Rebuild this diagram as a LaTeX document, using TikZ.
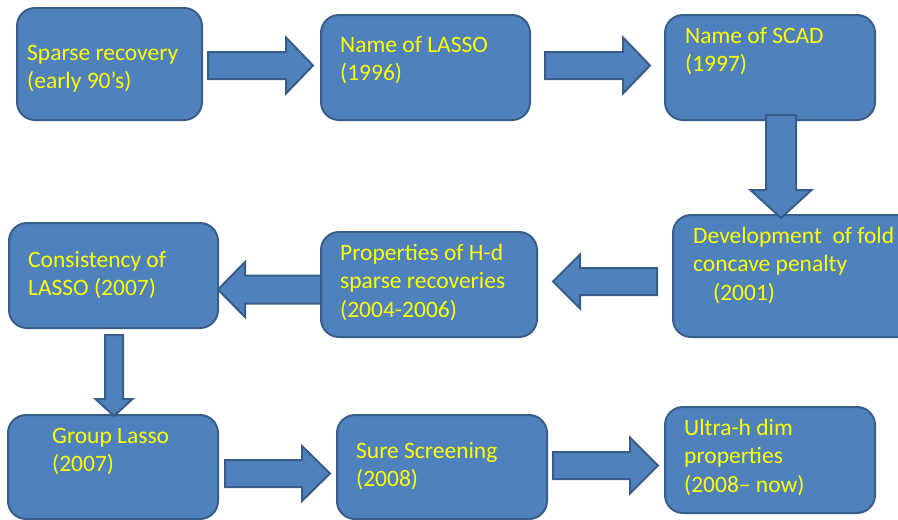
\documentclass[tikz,border=0pt]{standalone}
\usepackage{fontspec}
\setmainfont{Carlito}
\definecolor{boxfill}{RGB}{79,129,189}
\definecolor{boxline}{RGB}{56,93,138}
\definecolor{txtyellow}{RGB}{255,255,0}
\newcommand\topstr{\rule{0pt}{18pt}}
\newcommand\harr[6]{%
  \draw[blockarrow] (#1,{#4-#5}) -- (#2,{#4-#5}) -- (#2,{#4-#6}) -- (#3,#4) -- (#2,{#4+#6}) -- (#2,{#4+#5}) -- (#1,{#4+#5}) -- cycle;}
\newcommand\varr[6]{%
  \draw[blockarrow] ({#4-#5},#1) -- ({#4-#5},#2) -- ({#4-#6},#2) -- (#4,#3) -- ({#4+#6},#2) -- ({#4+#5},#2) -- ({#4+#5},#1) -- cycle;}
\tikzset{
  box/.style={draw=boxline, fill=boxfill, line width=2pt, rounded corners=18pt, rectangle, inner sep=0pt},
  blockarrow/.style={draw=boxline, fill=boxfill, line width=2pt, line join=miter},
  txt/.style={anchor=north west, inner sep=0pt, align=left, text=txtyellow, font=\fontsize{23.5}{28.6}\selectfont},
}
\begin{document}
\begin{tikzpicture}[x=1pt,y=-1pt]
\useasboundingbox (0,0) rectangle (898,520);
% boxes
\node[box, minimum width=185pt, minimum height=112pt] (b1) at (109.5,64) {};
\node[box, minimum width=209pt, minimum height=105pt] (b2) at (425.5,67.5) {};
\node[box, minimum width=210pt, minimum height=105pt] (b3) at (770,67.5) {};
\node[box, minimum width=252pt, minimum height=122pt] (b4) at (799,276) {};
\node[box, minimum width=216pt, minimum height=105pt] (b5) at (429,284.5) {};
\node[box, minimum width=209pt, minimum height=105pt] (b6) at (113.5,275.5) {};
\node[box, minimum width=210pt, minimum height=104pt] (b7) at (113,467) {};
\node[box, minimum width=210pt, minimum height=104pt] (b8) at (442,467) {};
\node[box, minimum width=210pt, minimum height=106pt] (b9) at (770,460) {};
% texts
\node[txt] (t1) at (27,42) {\topstr Sparse recovery\\(early 90’s)};
\node[txt] (t2) at (340,34) {\topstr Name of LASSO\\(1996)};
\node[txt] (t3) at (685,25) {\topstr Name of SCAD\\(1997)};
\node[txt] (t4) at (693,225) {\topstr Development\ \ of fold\\concave penalty\\\hspace*{20pt}(2001)};
\node[txt] (t5) at (340,242) {\topstr Properties of H-d\\sparse recoveries\\(2004-2006)};
\node[txt] (t6) at (28,249) {\topstr Consistency of\\LASSO (2007)};
\node[txt] (t7) at (52,425) {\topstr Group Lasso\\(2007)};
\node[txt] (t8) at (356,440) {\topstr Sure Screening\\(2008)};
\node[txt] (t9) at (684,417) {\topstr Ultra-h dim\\properties\\(2008– now)};
% block arrows
\harr{208}{286}{313}{65.5}{13.5}{28}
\harr{545}{623}{650}{65.5}{13.5}{28}
\varr{115}{190}{218}{781}{15}{30.5}
\harr{657}{580}{553}{281.5}{13.5}{27}
\harr{321}{245}{218}{289.5}{14}{27.5}
\varr{335}{399}{416}{114}{9}{18.5}
\harr{225}{302}{330}{473.5}{13.5}{27.5}
\harr{553}{630}{658}{465.5}{13.5}{28}
\end{tikzpicture}
\end{document}
